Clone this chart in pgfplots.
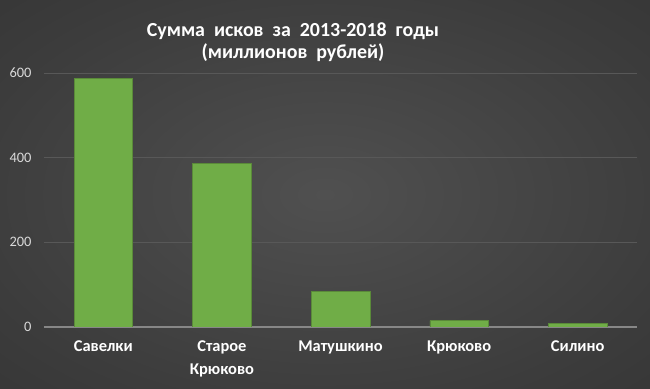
\documentclass[border=0pt]{standalone}
\usepackage{fontspec}
\setmainfont{Carlito}
\usepackage{pgfplots}
\pgfplotsset{compat=1.18}
\definecolor{bg1}{RGB}{80,80,80}
\definecolor{bg2}{RGB}{60,60,60}
\definecolor{bg3}{RGB}{34,34,34}
\definecolor{barc}{RGB}{112,173,71}
\definecolor{gridc}{RGB}{88,88,88}
\definecolor{basec}{RGB}{135,135,135}
\definecolor{tickc}{RGB}{217,217,217}
\pgfdeclareradialshading{bgshade}{\pgfpoint{0bp}{0bp}}{color(0bp)=(bg1); color(28bp)=(bg2); color(72bp)=(bg3)}
\begin{document}
\begin{tikzpicture}
\shade[shading=bgshade] (0bp,0bp) rectangle (650bp,389bp);
\begin{axis}[
  at={(44bp,62bp)}, anchor=south west,
  scale only axis, width=593bp, height=254bp,
  ymin=0, ymax=600, xmin=-0.5, xmax=4.5,
  ytick={0,200,400,600},
  xtick={0,1,2,3,4},
  xticklabels={Савелки,{Старое\\Крюково},Матушкино,Крюково,Силино},
  axis x line*=bottom, axis y line*=left,
  y axis line style={draw=none},
  x axis line style={draw=basec, line width=1.2pt},
  major tick length=0pt,
  ymajorgrids, grid style={draw=gridc, line width=0.9pt},
  /pgf/number format/assume math mode=true,
  yticklabel style={font=\fontsize{14.5}{16}\selectfont, text=tickc, anchor=east, xshift=-9bp},
  xticklabel style={font=\bfseries\fontsize{16.5}{23}\selectfont, text=white, align=center, anchor=north, yshift=-10bp},
  ybar, bar width=58.5bp,
]
\addplot[fill=barc, draw=barc!80!black, line width=0.4pt] coordinates {(0,588) (1,386) (2,84) (3,15) (4,8)};
\end{axis}
\node[font=\bfseries\fontsize{20}{22}\selectfont, text=white, align=center] at (293bp,347bp) {\spaceskip=0.45em Сумма исков за 2013-2018 годы\\\spaceskip=0.45em (миллионов рублей)};
\end{tikzpicture}
\end{document}
